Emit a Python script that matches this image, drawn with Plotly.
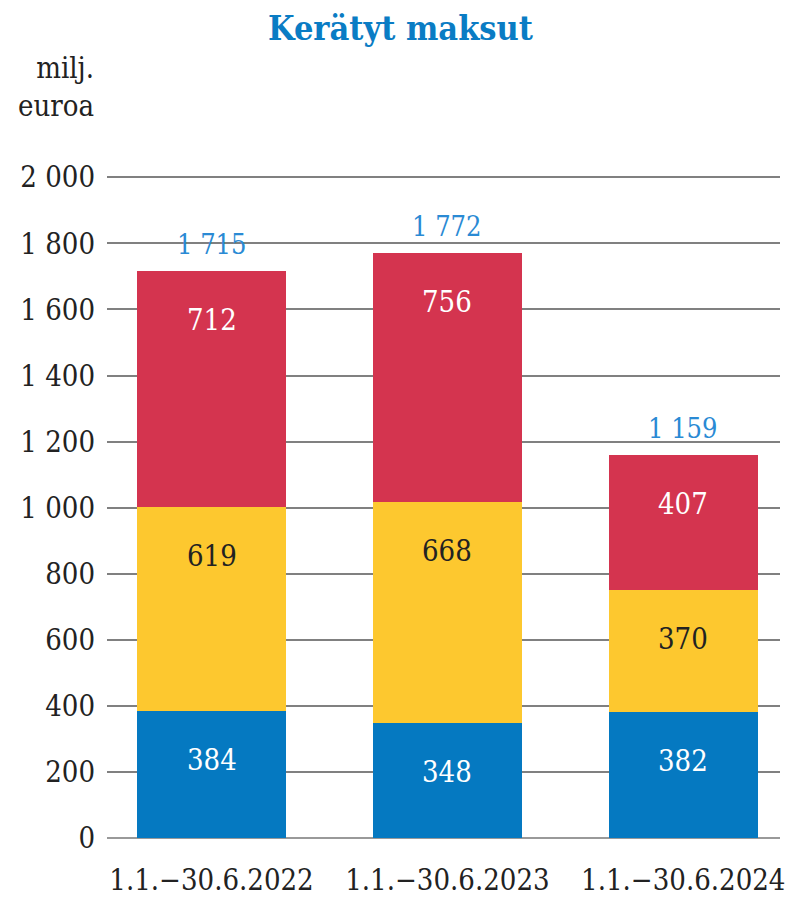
import plotly.graph_objects as go

categories = ["1.1.\u221230.6.2022", "1.1.\u221230.6.2023", "1.1.\u221230.6.2024"]
blue_vals = [384, 348, 382]
yellow_vals = [619, 668, 370]
red_vals = [712, 756, 407]
totals = [1715, 1772, 1159]
total_labels = ["1 715", "1 772", "1 159"]
y_ticks = [0, 200, 400, 600, 800, 1000, 1200, 1400, 1600, 1800, 2000]

FONT = "DejaVu Serif Condensed"
C_BLUE = "#0579c1"
C_YEL = "#fdc82f"
C_RED = "#d4344f"

fig = go.Figure()
series = [(blue_vals, C_BLUE), (yellow_vals, C_YEL), (red_vals, C_RED)]
for vals, col in series:
    fig.add_trace(go.Bar(x=categories, y=vals, marker=dict(color=col, line=dict(width=0)),
                         hoverinfo="skip"))

ann = []
cum = [0, 0, 0]
txtcols = ["white", "#222222", "white"]
for (vals, col), tc in zip(series, txtcols):
    for i, v in enumerate(vals):
        cum[i] += v
        ann.append(dict(x=categories[i], y=cum[i], xref="x", yref="y", text=str(v),
                        showarrow=False, yanchor="middle", yshift=-49,
                        font=dict(family=FONT, size=29, color=tc)))
for i, t in enumerate(totals):
    ann.append(dict(x=categories[i], y=t, xref="x", yref="y", text=total_labels[i],
                    showarrow=False, yanchor="bottom", yshift=9,
                    font=dict(family=FONT, size=27, color="#2a8ad4")))
ann.append(dict(x=0, y=1, xref="paper", yref="paper", xanchor="right", yanchor="bottom",
                xshift=-11, yshift=51, align="right", text="milj.<br>euroa", showarrow=False,
                font=dict(family=FONT, size=29, color="#222222")))

fig.update_layout(
    width=785, height=890,
    barmode="stack", bargap=0.37,
    showlegend=False,
    plot_bgcolor="white", paper_bgcolor="white",
    margin=dict(l=99, r=13, t=168, b=60),
    separators=", ",
    title=dict(text="<b>Kerätyt maksut</b>", x=0.5, xanchor="center", y=0.977, yanchor="middle",
               yref="container", font=dict(family=FONT, size=34, color="#0a7cc4")),
    annotations=ann,
    font=dict(family=FONT, size=28, color="#222222"),
)
fig.update_xaxes(range=[-0.443, 2.41], showgrid=False, showline=False, ticks="",
                 ticklabelstandoff=22, automargin=False,
                 tickfont=dict(family=FONT, size=29, color="#222222"))
fig.update_yaxes(range=[0, 2004], tickvals=y_ticks, tickformat=",d", showgrid=True,
                 gridcolor="#808080", gridwidth=2, zeroline=True, zerolinecolor="#999999",
                 zerolinewidth=2, showline=False, ticks="", ticklabelstandoff=11,
                 automargin=False,
                 tickfont=dict(family=FONT, size=29, color="#222222"))

fig.write_html("out.html")
